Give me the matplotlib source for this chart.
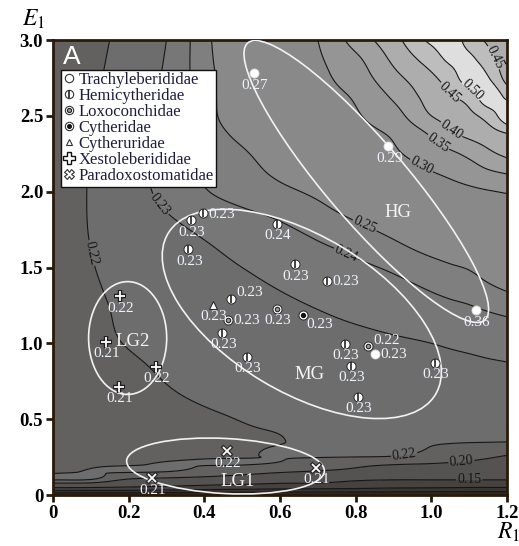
import numpy as np
import matplotlib
matplotlib.use("Agg")
import matplotlib.pyplot as plt
from matplotlib.lines import Line2D
from matplotlib.patches import Ellipse

plt.rcParams["font.family"] = ["Liberation Serif", "DejaVu Serif"]
plt.rcParams["mathtext.fontset"] = "stix"

# ===== landscape values (rows = E1, cols = R1) =====
grid_r = [0.0, 0.1, 0.2, 0.3, 0.4, 0.5, 0.6, 0.7, 0.8, 0.9, 1.0, 1.05, 1.1, 1.15, 1.2]
grid_e = [0.0, 0.04, 0.10, 0.15, 0.20, 0.25, 0.35, 0.50, 0.75, 1.0, 1.25, 1.5, 1.75,
          2.0, 2.25, 2.375, 2.5, 2.625, 2.75, 2.875, 3.0]
landscape = [
    [0.0] * 15,
    [0.130, 0.128, 0.125, 0.118, 0.110, 0.105, 0.100, 0.098, 0.095, 0.090, 0.088, 0.0865, 0.085, 0.085, 0.085],
    [0.2203, 0.2185, 0.196, 0.190, 0.185, 0.178, 0.170, 0.168, 0.155, 0.150, 0.150, 0.150, 0.150, 0.150, 0.150],
    [0.2192, 0.2203, 0.2203, 0.2190, 0.2140, 0.2080, 0.2010, 0.1960, 0.1920, 0.1900, 0.1880, 0.1870, 0.1860, 0.1855, 0.1850],
    [0.2182, 0.2193, 0.2197, 0.2203, 0.2203, 0.2203, 0.2180, 0.2130, 0.2040, 0.2000, 0.1980, 0.1965, 0.1950, 0.1935, 0.1920],
    [0.2172, 0.2180, 0.2185, 0.2192, 0.2197, 0.2198, 0.2202, 0.2203, 0.2198, 0.2185, 0.2130, 0.2090, 0.2050, 0.2015, 0.1980],
    [0.2163, 0.2168, 0.2175, 0.2183, 0.2190, 0.2196, 0.2199, 0.2207, 0.2210, 0.2212, 0.2210, 0.2208, 0.2205, 0.2203, 0.2200],
    [0.2165, 0.2172, 0.2180, 0.2188, 0.2195, 0.2201, 0.2206, 0.2210, 0.2214, 0.2218, 0.2222, 0.2224, 0.2225, 0.2227, 0.2229],
    [0.2170, 0.2177, 0.2188, 0.2201, 0.2212, 0.2222, 0.2231, 0.2240, 0.2248, 0.2256, 0.2264, 0.2267, 0.2270, 0.2274, 0.2277],
    [0.2177, 0.2190, 0.2202, 0.2214, 0.2226, 0.2239, 0.2251, 0.2263, 0.2275, 0.2288, 0.2300, 0.2308, 0.2315, 0.2323, 0.2330],
    [0.2172, 0.2191, 0.2210, 0.2229, 0.2247, 0.2266, 0.2285, 0.2305, 0.2328, 0.2351, 0.2374, 0.2386, 0.2398, 0.2419, 0.2440],
    [0.2171, 0.2197, 0.2223, 0.2249, 0.2274, 0.2300, 0.2327, 0.2354, 0.2381, 0.2414, 0.2459, 0.2485, 0.2511, 0.2566, 0.2620],
    [0.2165, 0.2203, 0.2240, 0.2278, 0.2314, 0.2348, 0.2383, 0.2424, 0.2471, 0.2538, 0.2632, 0.2679, 0.2726, 0.2773, 0.2820],
    [0.2149, 0.2206, 0.2263, 0.2324, 0.2393, 0.2435, 0.2473, 0.2529, 0.2627, 0.2725, 0.2824, 0.2872, 0.2922, 0.2975, 0.3030],
    [0.2146, 0.2203, 0.2260, 0.2338, 0.2428, 0.2483, 0.2585, 0.2707, 0.2829, 0.2951, 0.3214, 0.3400, 0.3620, 0.3900, 0.4100],
    [0.2138, 0.2197, 0.2257, 0.2334, 0.2443, 0.2531, 0.2645, 0.2769, 0.2895, 0.3050, 0.3550, 0.3900, 0.4100, 0.4260, 0.4450],
    [0.2130, 0.2190, 0.2253, 0.2329, 0.2457, 0.2578, 0.2704, 0.2830, 0.2960, 0.3300, 0.4000, 0.4200, 0.4380, 0.4700, 0.5350],
    [0.2120, 0.2185, 0.2249, 0.2322, 0.2458, 0.2589, 0.2727, 0.2865, 0.3050, 0.3570, 0.4200, 0.4450, 0.4700, 0.5300, 0.4900],
    [0.2110, 0.2180, 0.2244, 0.2315, 0.2458, 0.2600, 0.2750, 0.2900, 0.3230, 0.3850, 0.4400, 0.4750, 0.5250, 0.5030, 0.4300],
    [0.2105, 0.2175, 0.2237, 0.2308, 0.2463, 0.2622, 0.2785, 0.2950, 0.3400, 0.4100, 0.4750, 0.5100, 0.5100, 0.4700, 0.4150],
    [0.2100, 0.2170, 0.2230, 0.2300, 0.2467, 0.2643, 0.2820, 0.3000, 0.3710, 0.4330, 0.5100, 0.5250, 0.4800, 0.4400, 0.4000],
]

# ===== species points =====
trachy_r = [0.530, 0.886, 1.117, 0.850]
trachy_e = [2.780, 2.300, 1.218, 0.930]
trachy_v = ["0.27", "0.29", "0.36", "0.23"]

hemi_r = [0.396, 0.364, 0.358, 0.470, 0.448, 0.512, 0.591, 0.639, 0.723, 0.771, 0.787, 0.805, 1.009]
hemi_e = [1.857, 1.810, 1.620, 1.295, 1.070, 0.910, 1.790, 1.520, 1.414, 0.998, 0.853, 0.648, 0.872]
hemi_v = ["0.23", "0.23", "0.23", "0.23", "0.23", "0.23", "0.24", "0.23", "0.23", "0.23", "0.23", "0.23", "0.23"]

loxo_r = [0.462, 0.591, 0.832]
loxo_e = [1.157, 1.229, 0.980]
loxo_v = ["0.23", "0.23", "0.22"]

cytheridae_r = [0.660]
cytheridae_e = [1.190]
cytheridae_v = ["0.23"]

cytheruridae_r = [0.422]
cytheruridae_e = [1.256]
cytheruridae_v = ["0.23"]

xesto_r = [0.177, 0.139, 0.272, 0.174]
xesto_e = [1.310, 1.010, 0.846, 0.714]
xesto_v = ["0.22", "0.21", "0.22", "0.21"]

paradox_r = [0.459, 0.262, 0.694]
paradox_e = [0.290, 0.110, 0.180]
paradox_v = ["0.22", "0.21", "0.21"]

families = ["Trachyleberididae", "Hemicytheridae", "Loxoconchidae", "Cytheridae",
            "Cytheruridae", "Xestoleberididae", "Paradoxostomatidae"]

# label placement around each point (b = below, r = right, ur = upper right, br = lower right)
trachy_pos = ["b", "b", "b", "r"]
hemi_pos = ["r", "b", "b", "ur", "b", "b", "b", "b", "r", "b", "b", "b", "b"]
loxo_pos = ["r", "b", "ur"]


def hermite(xn, fn, xq):
    # cubic hermite along the last axis, slopes from finite differences
    xn = np.asarray(xn)
    m = np.gradient(fn, xn, axis=-1)
    i = np.clip(np.searchsorted(xn, xq) - 1, 0, len(xn) - 2)
    h = xn[i + 1] - xn[i]
    t = (xq - xn[i]) / h
    h00 = 2 * t**3 - 3 * t**2 + 1
    h10 = t**3 - 2 * t**2 + t
    h01 = -2 * t**3 + 3 * t**2
    h11 = t**3 - t**2
    return h00 * fn[..., i] + h10 * h * m[..., i] + h01 * fn[..., i + 1] + h11 * h * m[..., i + 1]


zf = np.array(landscape)
rf = np.linspace(0, 1.2, 361)
ef = np.linspace(0, 3.0, 901)
tmp = hermite(grid_r, zf, rf)
Z = hermite(grid_e, tmp.T, ef).T
Z = np.clip(Z, 0, None)
RR, EE = np.meshgrid(rf, ef)

band_levels = [-0.01, 0.05, 0.10, 0.15, 0.20, 0.22, 0.23, 0.24, 0.25, 0.30, 0.35, 0.40, 0.45, 0.50, 0.55, 0.70]
band_colors = ["#2b2825", "#383532", "#45423f", "#555351", "#636160", "#6d6d6d", "#777777",
               "#7f7f7f", "#898989", "#959595", "#a1a1a1", "#adadad", "#bdbdbd", "#dedede", "#f5f5f5"]
plain_levels = [0.05, 0.10, 0.55]
# contour labels: level -> spots where the label sits
label_spots = {0.15: [(1.10, 0.10)], 0.20: [(1.08, 0.20)], 0.22: [(0.11, 1.60), (0.93, 0.23)],
               0.23: [(0.29, 1.93)], 0.24: [(0.776, 1.60)], 0.25: [(0.824, 1.78)],
               0.30: [(0.98, 2.20)], 0.35: [(1.02, 2.33)], 0.40: [(1.05, 2.40)],
               0.45: [(1.05, 2.66), (1.13, 2.84)], 0.50: [(1.12, 2.71)]}

fig = plt.figure(figsize=(5.19, 5.46), dpi=100)
ax = fig.add_axes([0.102, 0.0934, 0.875, 0.8333])

ax.contourf(RR, EE, Z, levels=band_levels, colors=band_colors)
ax.contour(RR, EE, Z, levels=plain_levels, colors="#161616", linewidths=0.8)
for lvl, spots in label_spots.items():
    cs = ax.contour(RR, EE, Z, levels=[lvl], colors="#161616", linewidths=0.8)
    ax.clabel(cs, manual=spots, inline=True, fmt="%.2f",
              fontsize=10, inline_spacing=1, colors="#161616")

# group ellipses (axes fraction coords)
ell_specs = [((0.690, 0.689), 0.802, 0.176, -49.4),
             ((0.548, 0.398), 0.687, 0.343, -31.0),
             ((0.1645, 0.345), 0.172, 0.248, 0.0),
             ((0.380, 0.0637), 0.436, 0.121, -3.0)]
for c, w, h, a in ell_specs:
    ax.add_patch(Ellipse(c, w, h, angle=a, transform=ax.transAxes, fill=False,
                         edgecolor="#f2f2f2", linewidth=1.2, zorder=4))

for name, x, y in [("HG", 0.912, 1.86), ("MG", 0.678, 0.793), ("LG2", 0.211, 1.01), ("LG1", 0.489, 0.086)]:
    ax.text(x, y, name, color="#f4f4f4", fontsize=13.5, ha="center", va="center", zorder=6)

edge = "#2a2a2a"
ax.plot(trachy_r, trachy_e, "o", ms=6.5, mfc="white", mec="#dddddd", mew=0.6, zorder=5)
ax.plot(hemi_r, hemi_e, "o", ms=6.5, mfc="white", mec=edge, mew=0.7, zorder=5)
ax.plot(hemi_r, hemi_e, "|", ms=6, mec="#222222", mew=1.2, zorder=5)
ax.plot(loxo_r, loxo_e, "o", ms=6.5, mfc="white", mec=edge, mew=0.7, zorder=5)
ax.plot(loxo_r, loxo_e, "o", ms=3.2, mfc="#999999", mec="#222222", mew=0.8, zorder=5)
ax.plot(cytheridae_r, cytheridae_e, "o", ms=6.5, mfc="white", mec=edge, mew=0.7, zorder=5)
ax.plot(cytheridae_r, cytheridae_e, "o", ms=2.8, mfc="#111111", mec="#111111", zorder=5)
ax.plot(cytheruridae_r, cytheruridae_e, "^", ms=6, mfc="white", mec=edge, mew=0.8, zorder=5)
ax.plot(xesto_r, xesto_e, "+", ms=8.5, mec="#1e1e1e", mew=3.2, zorder=5)
ax.plot(xesto_r, xesto_e, "+", ms=7.5, mec="white", mew=1.3, zorder=5)
ax.plot(paradox_r, paradox_e, "x", ms=7, mec="#2a2a2a", mew=3.0, zorder=5)
ax.plot(paradox_r, paradox_e, "x", ms=6, mec="white", mew=1.3, zorder=5)

offsets = {"b": (1, -12, "center"), "r": (6, -1, "left"), "ur": (6, 6, "left"), "br": (4, -10, "left")}
groups = [(trachy_r, trachy_e, trachy_v, trachy_pos),
          (hemi_r, hemi_e, hemi_v, hemi_pos),
          (loxo_r, loxo_e, loxo_v, loxo_pos),
          (cytheridae_r, cytheridae_e, cytheridae_v, ["br"]),
          (cytheruridae_r, cytheruridae_e, cytheruridae_v, ["b"]),
          (xesto_r, xesto_e, xesto_v, ["b"] * 4),
          (paradox_r, paradox_e, paradox_v, ["b"] * 3)]
for rs, es, vs, ps in groups:
    for x, y, v, p in zip(rs, es, vs, ps):
        dx, dy, ha = offsets[p]
        ax.annotate(v, (x, y), xytext=(dx, dy), textcoords="offset pixels", ha=ha, va="center",
                    fontsize=11, color="#eef2fb", zorder=6)

# legend
handles = [
    Line2D([], [], ls="", marker="o", ms=6, mfc="white", mec="#333333", mew=0.8),
    (Line2D([], [], ls="", marker="o", ms=6, mfc="white", mec="#333333", mew=0.8),
     Line2D([], [], ls="", marker="|", ms=6, mec="#222222", mew=1.2)),
    (Line2D([], [], ls="", marker="o", ms=6, mfc="white", mec="#333333", mew=0.8),
     Line2D([], [], ls="", marker="o", ms=3, mfc="#999999", mec="#222222", mew=0.8)),
    (Line2D([], [], ls="", marker="o", ms=6, mfc="white", mec="#333333", mew=0.8),
     Line2D([], [], ls="", marker="o", ms=2.6, mfc="#111111", mec="#111111")),
    Line2D([], [], ls="", marker="^", ms=5, mfc="white", mec="#333333", mew=0.8),
    Line2D([], [], ls="", marker="P", ms=8, mfc="white", mec="#111111", mew=1.0),
    Line2D([], [], ls="", marker="X", ms=6.5, mfc="white", mec="#333333", mew=0.8),
]
leg = ax.legend(handles, families, loc="upper left", bbox_to_anchor=(0.018, 0.935),
                fontsize=12, frameon=True, fancybox=False, framealpha=1, edgecolor="#111111",
                handlelength=0.7, handletextpad=0.2, borderpad=0.15, labelspacing=0.0,
                borderaxespad=0)
leg.get_frame().set_linewidth(1.0)
for t in leg.get_texts():
    t.set_color("#1e1e3c")
leg.set_zorder(7)

ax.text(0.022, 0.988, "A", transform=ax.transAxes, fontsize=19, color="white",
        family="Liberation Sans", ha="left", va="top", zorder=8)

ax.set_xlim(0, 1.2)
ax.set_ylim(0, 3.0)
ax.set_xticks([0, 0.2, 0.4, 0.6, 0.8, 1.0, 1.2])
ax.set_xticklabels(["0", "0.2", "0.4", "0.6", "0.8", "1.0", "1.2"])
ax.set_yticks([0, 0.5, 1.0, 1.5, 2.0, 2.5, 3.0])
ax.set_yticklabels(["0", "0.5", "1.0", "1.5", "2.0", "2.5", "3.0"])
ax.tick_params(direction="out", length=5, width=2, color="#2a1a0a", labelsize=13.5, pad=2)
for lab in ax.get_xticklabels() + ax.get_yticklabels():
    lab.set_fontweight("bold")
for s in ax.spines.values():
    s.set_color("#2a1a0a")
    s.set_linewidth(2)

fig.text(0.042, 0.943, r"$E_1$", fontsize=17, ha="left", va="bottom")
fig.text(0.958, 0.004, r"$R_1$", fontsize=17, ha="left", va="bottom")

fig.savefig("out.png", dpi=100)
